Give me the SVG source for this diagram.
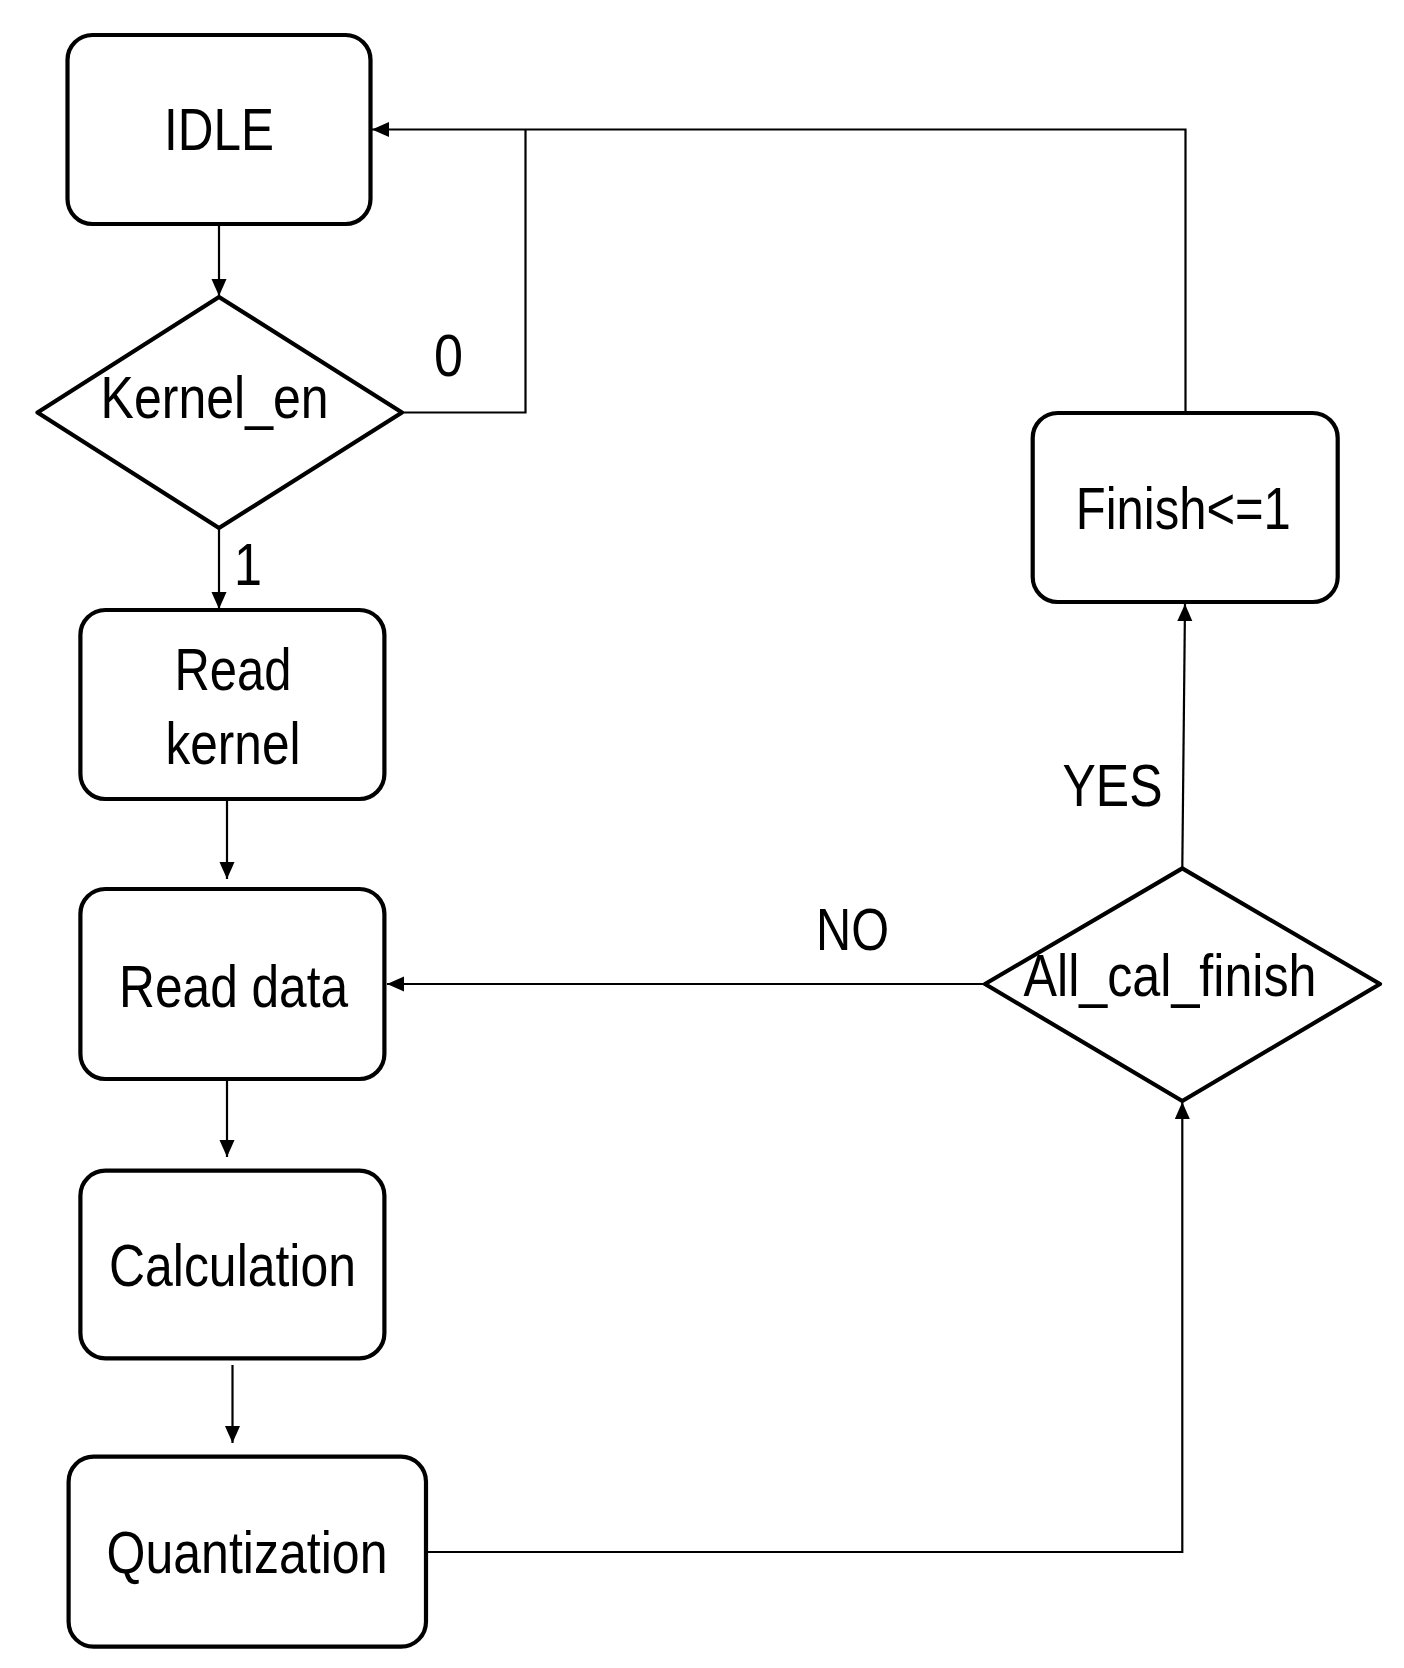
<svg xmlns="http://www.w3.org/2000/svg" width="1404" height="1668" viewBox="0 0 1404 1668">
<style>
.node{fill:#fff;stroke:#000;stroke-width:4.2;stroke-linejoin:round}
.conn{fill:none;stroke:#000;stroke-width:2.2}
text{font-family:"Liberation Sans",Arial,sans-serif;font-size:60px;fill:#000;text-anchor:middle}
</style>
<defs>
<marker id="arr" markerUnits="userSpaceOnUse" markerWidth="18" markerHeight="16" refX="17" refY="7.5" orient="auto">
<path d="M0,0 L17,7.5 L0,15 z" fill="#000"/>
</marker>
</defs>
<rect width="1404" height="1668" fill="#fff"/>
<g id="connectors">
<path class="conn" d="M219,224 V296" marker-end="url(#arr)"/>
<path class="conn" d="M402,412.5 H525.5 V129.5"/>
<path class="conn" d="M1185.5,413 V129.5 H372" marker-end="url(#arr)"/>
<path class="conn" d="M219,528 V609" marker-end="url(#arr)"/>
<path class="conn" d="M227,799 V879" marker-end="url(#arr)"/>
<path class="conn" d="M227,1079 V1157" marker-end="url(#arr)"/>
<path class="conn" d="M232.5,1365 V1443" marker-end="url(#arr)"/>
<path class="conn" d="M426,1552 H1182.3 V1102" marker-end="url(#arr)"/>
<path class="conn" d="M985,984 H387" marker-end="url(#arr)"/>
<path class="conn" d="M1182.3,868.4 L1185,604" marker-end="url(#arr)"/>
<text x="448.6" y="375.6" textLength="29" lengthAdjust="spacingAndGlyphs">0</text>
<text x="248" y="585" textLength="28" lengthAdjust="spacingAndGlyphs">1</text>
<text x="1112.5" y="806" textLength="100" lengthAdjust="spacingAndGlyphs">YES</text>
<text x="852.5" y="950" textLength="73" lengthAdjust="spacingAndGlyphs">NO</text>
</g>
<g id="idle">
<rect class="node" x="67.5" y="35" width="303" height="189" rx="25"/>
<text x="219" y="150" textLength="110" lengthAdjust="spacingAndGlyphs">IDLE</text>
</g>
<g id="kernel_en">
<polygon class="node" points="219,297 402,412.5 219,528 37.5,412.5"/>
<text x="214.6" y="418" textLength="228" lengthAdjust="spacingAndGlyphs">Kernel_en</text>
</g>
<g id="read_kernel">
<rect class="node" x="80.4" y="610" width="304" height="189" rx="25"/>
<text x="233" y="690" textLength="117" lengthAdjust="spacingAndGlyphs">Read</text>
<text x="233" y="763.6" textLength="135" lengthAdjust="spacingAndGlyphs">kernel</text>
</g>
<g id="read_data">
<rect class="node" x="80.4" y="889" width="304" height="190" rx="25"/>
<text x="233.6" y="1007" textLength="229" lengthAdjust="spacingAndGlyphs">Read data</text>
</g>
<g id="calculation">
<rect class="node" x="80.4" y="1170.7" width="304" height="187.6" rx="25"/>
<text x="232.5" y="1286" textLength="247" lengthAdjust="spacingAndGlyphs">Calculation</text>
</g>
<g id="quantization">
<rect class="node" x="68.6" y="1456.7" width="357.4" height="190" rx="25"/>
<text x="247" y="1572.7" textLength="281" lengthAdjust="spacingAndGlyphs">Quantization</text>
</g>
<g id="finish">
<rect class="node" x="1032.7" y="413" width="305" height="189" rx="25"/>
<text x="1183.3" y="528.7" textLength="215" lengthAdjust="spacingAndGlyphs">Finish&lt;=1</text>
</g>
<g id="all_cal_finish">
<polygon class="node" points="1182.3,868.4 1380,984 1182.3,1101 985,984"/>
<text x="1170" y="995.8" textLength="293" lengthAdjust="spacingAndGlyphs">All_cal_finish</text>
</g>
</svg>
